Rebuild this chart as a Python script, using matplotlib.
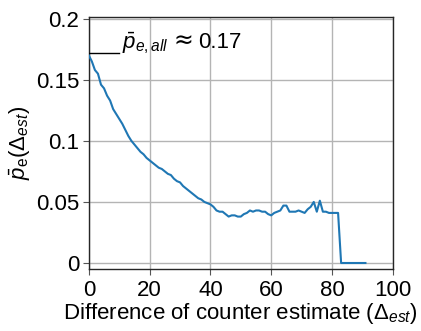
import matplotlib
matplotlib.use("Agg")
import matplotlib.pyplot as plt
from matplotlib.transforms import offset_copy
import numpy as np

plt.rcParams['font.family'] = ['Liberation Sans', 'DejaVu Sans']
plt.rcParams['mathtext.fontset'] = 'custom'
plt.rcParams['mathtext.rm'] = 'Liberation Sans'
plt.rcParams['mathtext.it'] = 'Liberation Sans:italic'
plt.rcParams['mathtext.bf'] = 'Liberation Sans:bold'

delta = list(range(0, 92))
p_e = [0.170, 0.165, 0.158, 0.155, 0.146, 0.143, 0.137, 0.133, 0.126, 0.122,
       0.118, 0.114, 0.109, 0.104, 0.100, 0.097, 0.094, 0.091, 0.089, 0.086,
       0.084, 0.082, 0.080, 0.078, 0.077, 0.075, 0.073, 0.072, 0.069, 0.067,
       0.066, 0.063, 0.061, 0.059, 0.057, 0.055, 0.053, 0.052, 0.050, 0.049,
       0.048, 0.046, 0.043, 0.042, 0.042, 0.040, 0.038, 0.039, 0.039, 0.038,
       0.038, 0.040, 0.041, 0.043, 0.042, 0.043, 0.043, 0.042, 0.042, 0.040,
       0.039, 0.041, 0.042, 0.043, 0.047, 0.047, 0.042, 0.042, 0.042, 0.043,
       0.042, 0.041, 0.044, 0.046, 0.050, 0.042, 0.051, 0.042, 0.042, 0.041,
       0.041, 0.041, 0.041, 0.000, 0.000, 0.000, 0.000, 0.000, 0.000, 0.000,
       0.000, 0.000]
p_all = 0.17
xticks = [0, 20, 40, 60, 80, 100]
yticks = [0, 0.05, 0.1, 0.15, 0.2]
ytick_labels = ['0', '0.05', '0.1', '0.15', '0.2']

fig = plt.figure(figsize=(4.21, 3.31), dpi=100)
ax = fig.add_axes([0.211, 0.187, 0.722, 0.762])

ax.plot(delta, p_e, color='#1f77b4', lw=1.5, zorder=3)
ax.plot([0, 9.8], [p_all + 0.002, p_all + 0.002], color='black', lw=1.0, zorder=3)

fig.canvas.draw()
r = fig.canvas.get_renderer()
t1 = ax.text(10.8, 0.176, r'$\bar{p}_{e,all}$', fontsize=16, va='baseline', ha='left')
w1 = t1.get_window_extent(r).width * 72 / fig.dpi
t2 = ax.text(10.8, 0.176, '\u2248', fontsize=17, va='baseline', ha='left',
             family='DejaVu Sans',
             transform=offset_copy(ax.transData, fig=fig, x=w1 + 4, y=0, units='points'))
w2 = t2.get_window_extent(r).width * 72 / fig.dpi
ax.text(10.8, 0.176, '0.17', fontsize=16, va='baseline', ha='left',
        transform=offset_copy(ax.transData, fig=fig, x=w1 + 4 + w2 + 3, y=0, units='points'))

ax.set_xlim(0, 100)
ax.set_ylim(-0.005, 0.2015)
ax.set_xticks(xticks)
ax.set_xticklabels([str(t) for t in xticks])
ax.set_yticks(yticks)
ax.set_yticklabels(ytick_labels)
ax.grid(True, color='#b4b4b4', lw=1.0)
ax.set_axisbelow(True)
for s in ax.spines.values():
    s.set_color('#262626')
    s.set_linewidth(1.0)
ax.tick_params(direction='out', length=4, width=0.8, colors='#555555', labelcolor='black',
               labelsize=16, pad=3)
ax.tick_params(axis='x', pad=4)

ax.set_xlabel(r'Difference of counter estimate ($\Delta_{est}$)', fontsize=16, labelpad=0)
ax.set_ylabel(r'$\bar{p}_{\mathrm{e}}(\Delta_{est})$', fontsize=16, labelpad=2)

fig.savefig('out.png', dpi=100)
